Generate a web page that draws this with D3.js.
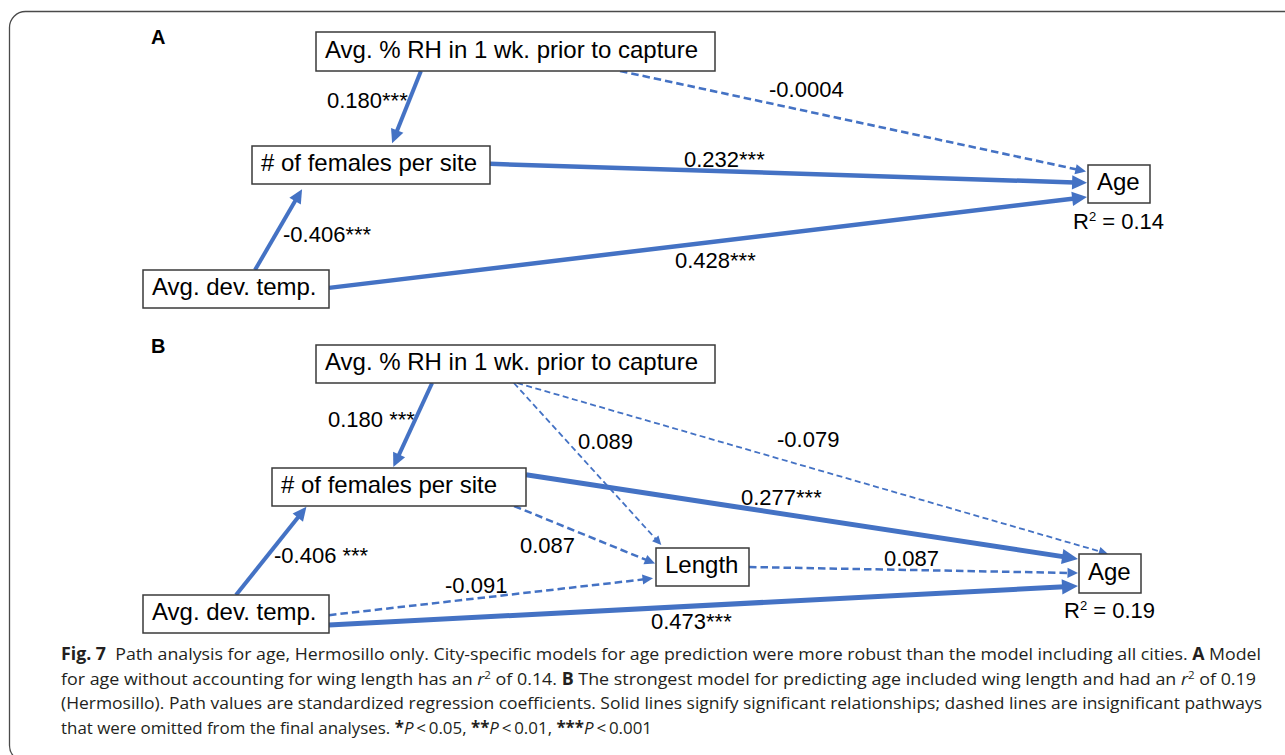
<!DOCTYPE html>
<html>
<head>
<meta charset="utf-8">
<script src="https://cdn.jsdelivr.net/npm/d3@7"></script>
<style>
  body { margin: 0; background: #fff; }
</style>
</head>
<body>
<div id="vis"></div>
<script>
// ---- data ----
const nodeIds = ["rh", "fem", "temp", "len", "age"];
const nodeLabels = ["Avg. % RH in 1 wk. prior to capture", "# of females per site", "Avg. dev. temp.", "Length", "Age"];

const nodesA = ["rh", "fem", "temp", "age"];
const nodesB = ["rh", "fem", "temp", "len", "age"];

// path coefficients (sig = solid line)
const pathsA = [
  { from: "rh", to: "fem", label: "0.180***", sig: true },
  { from: "rh", to: "age", label: "-0.0004", sig: false },
  { from: "fem", to: "age", label: "0.232***", sig: true },
  { from: "temp", to: "fem", label: "-0.406***", sig: true },
  { from: "temp", to: "age", label: "0.428***", sig: true }
];
const pathsB = [
  { from: "rh", to: "fem", label: "0.180 ***", sig: true },
  { from: "rh", to: "len", label: "0.089", sig: false },
  { from: "rh", to: "age", label: "-0.079", sig: false },
  { from: "fem", to: "age", label: "0.277***", sig: true },
  { from: "fem", to: "len", label: "0.087", sig: false },
  { from: "temp", to: "fem", label: "-0.406 ***", sig: true },
  { from: "temp", to: "len", label: "-0.091", sig: false },
  { from: "temp", to: "age", label: "0.473***", sig: true },
  { from: "len", to: "age", label: "0.087", sig: false }
];
const panelNames = ["A", "B"];
const rSquared = ["0.14", "0.19"];

// ---- layout (boxes: x, y, w, h) ----
const boxes = {
  A: { rh: [316, 32, 399, 39], fem: [252, 146, 238, 38], temp: [143, 270, 186, 38], age: [1088, 165, 62, 38] },
  B: { rh: [316, 345, 399, 38], fem: [272, 468, 254, 38], temp: [143, 595, 186, 38], len: [656, 548, 93, 38], age: [1079, 554, 62, 39] }
};
// edge anchors as fractions of source / target box, gap before target, stroke width, label pos
const geom = {
  A: [
    { s: [0.263, 1], t: [0.584, 0], gap: 3, w: 4, lab: [327, 108] },
    { s: [0.762, 1], t: [0, 0.18], gap: 2, w: 2.6, lab: [769, 97] },
    { s: [1, 0.47], t: [0, 0.47], gap: 1, w: 4.5, lab: [684, 167] },
    { s: [0.602, 0], t: [0.223, 1], gap: 6, w: 4, lab: [283, 242] },
    { s: [1, 0.47], t: [0, 0.84], gap: 1, w: 4.5, lab: [675, 268] }
  ],
  B: [
    { s: [0.291, 1], t: [0.476, 0], gap: 1, w: 4, lab: [328, 427] },
    { s: [0.496, 1], t: [0.086, 0], gap: 4, w: 1.8, lab: [578, 449] },
    { s: [0.504, 1], t: [0.48, 0], gap: 1, w: 1.8, lab: [777, 447] },
    { s: [1, 0.18], t: [0, 0.13], gap: 1, w: 5, lab: [741, 505] },
    { s: [0.953, 1], t: [0, 0.42], gap: 1, w: 2.5, lab: [520, 553] },
    { s: [0.5, 0], t: [0.138, 1], gap: 1, w: 4, lab: [274, 563] },
    { s: [1, 0.53], t: [0, 0.79], gap: 3, w: 2.5, lab: [445, 593] },
    { s: [1, 0.79], t: [0, 0.82], gap: 1, w: 5, lab: [651, 629] },
    { s: [1, 0.5], t: [0, 0.49], gap: 1, w: 2.5, lab: [884, 566] }
  ]
};
const panelPos = { A: [151, 44], B: [151, 353] };
const r2Pos = { A: [1073, 229], B: [1064, 618] };

const blue = "#4472c4";

const svg = d3.select("#vis").append("svg")
  .attr("width", 1285)
  .attr("height", 755)
  .style("display", "block");

// outer frame
svg.append("rect")
  .attr("x", 9.5).attr("y", 11.5)
  .attr("width", 1330).attr("height", 750)
  .attr("rx", 16)
  .attr("fill", "none")
  .attr("stroke", "#4a4a4a")
  .attr("stroke-width", 1.3);

const anchor = (b, f) => [b[0] + f[0] * b[2], b[1] + f[1] * b[3]];

function drawPanel(name, nodes, paths, r2) {
  const g = svg.append("g");
  const bx = boxes[name];

  // edges
  const eg = g.append("g");
  paths.forEach((p, i) => {
    const ge = geom[name][i];
    const a = anchor(bx[p.from], ge.s);
    const b = anchor(bx[p.to], ge.t);
    const dx = b[0] - a[0], dy = b[1] - a[1];
    const len = Math.hypot(dx, dy);
    const ux = dx / len, uy = dy / len;
    const tip = [b[0] - ux * ge.gap, b[1] - uy * ge.gap];
    const L = ge.w * 2.2 + 5, W = L * 0.48;
    const base = [tip[0] - ux * L, tip[1] - uy * L];
    const end = [tip[0] - ux * L * 0.85, tip[1] - uy * L * 0.85];

    eg.append("line")
      .attr("x1", a[0]).attr("y1", a[1])
      .attr("x2", end[0]).attr("y2", end[1])
      .attr("stroke", blue)
      .attr("stroke-width", ge.w)
      .attr("stroke-dasharray", p.sig ? null : (ge.w < 2 ? "6,3.5" : "7.5,4"));

    eg.append("path")
      .attr("d", d3.line()([
        tip,
        [base[0] - uy * W, base[1] + ux * W],
        [base[0] + uy * W, base[1] - ux * W]
      ]) + "Z")
      .attr("fill", blue);

    g.append("text")
      .attr("x", ge.lab[0]).attr("y", ge.lab[1])
      .attr("font-family", "'Liberation Sans', Arial, sans-serif")
      .attr("font-size", 22)
      .attr("fill", "#000")
      .style("white-space", "pre")
      .text(p.label);
  });

  // boxes
  const ng = g.selectAll("g.node")
    .data(nodes)
    .join("g")
    .attr("class", "node");
  ng.append("rect")
    .attr("x", d => bx[d][0]).attr("y", d => bx[d][1])
    .attr("width", d => bx[d][2]).attr("height", d => bx[d][3])
    .attr("fill", "#fff")
    .attr("stroke", "#3a3a3a")
    .attr("stroke-width", 1.5);
  ng.append("text")
    .attr("x", d => bx[d][0] + 9)
    .attr("y", d => bx[d][1] + bx[d][3] * 0.67)
    .attr("font-family", "'Liberation Sans', Arial, sans-serif")
    .attr("font-size", 24)
    .attr("fill", "#000")
    .text(d => nodeLabels[nodeIds.indexOf(d)]);

  // panel letter
  g.append("text")
    .attr("x", panelPos[name][0]).attr("y", panelPos[name][1])
    .attr("font-family", "'Liberation Sans', Arial, sans-serif")
    .attr("font-size", 20)
    .attr("font-weight", "bold")
    .text(name);

  // R squared
  const rt = g.append("text")
    .attr("x", r2Pos[name][0]).attr("y", r2Pos[name][1])
    .attr("font-family", "'Liberation Sans', Arial, sans-serif")
    .attr("font-size", 22);
  rt.append("tspan").text("R");
  rt.append("tspan").attr("font-size", 13).attr("dy", -8).text("2");
  rt.append("tspan").attr("dy", 8).text(" = " + r2);
}

drawPanel("A", nodesA, pathsA, rSquared[0]);
drawPanel("B", nodesB, pathsB, rSquared[1]);

// ---- caption ----
// segments: [text, style]  b = bold, i = italic, s = superscript
const captionLines = [
  [["Fig. 7", "b"], ["  Path analysis for age, Hermosillo only. City-specific models for age prediction were more robust than the model including all cities. ", ""], ["A", "b"], [" Model", ""]],
  [["for age without accounting for wing length has an ", ""], ["r", "i"], ["2", "s"], [" of 0.14. ", ""], ["B", "b"], [" The strongest model for predicting age included wing length and had an ", ""], ["r", "i"], ["2", "s"], [" of 0.19", ""]],
  [["(Hermosillo). Path values are standardized regression coefficients. Solid lines signify significant relationships; dashed lines are insignificant pathways", ""]],
  [["that were omitted from the final analyses. ", ""], ["*", "b"], ["P", "i"], ["\u2009<\u20090.05, ", ""], ["**", "b"], ["P", "i"], ["\u2009<\u20090.01, ", ""], ["***", "b"], ["P", "i"], ["\u2009<\u20090.001", ""]]
];
const capBase = [660, 684.5, 709, 733.5];
const capEnd = [1261, 1256, 1262, 652];
const capX = 61;

captionLines.forEach((line, li) => {
  const t = svg.append("text")
    .attr("x", capX).attr("y", capBase[li])
    .attr("font-family", "'Open Sans', 'Noto Sans', sans-serif")
    .attr("font-size", 17)
    .attr("fill", "#231f20")
    .style("white-space", "pre");
  let sup = false;
  line.forEach(([txt, st]) => {
    const ts = t.append("tspan").text(txt);
    if (st === "b") ts.attr("font-weight", "bold");
    if (st === "i") ts.attr("font-style", "italic");
    if (st === "s") { ts.attr("font-size", 11).attr("dy", -6); sup = true; }
    else if (sup) { ts.attr("dy", 6); sup = false; }
  });
  t.attr("textLength", capEnd[li] - capX).attr("lengthAdjust", "spacingAndGlyphs");
});
</script>
</body>
</html>
